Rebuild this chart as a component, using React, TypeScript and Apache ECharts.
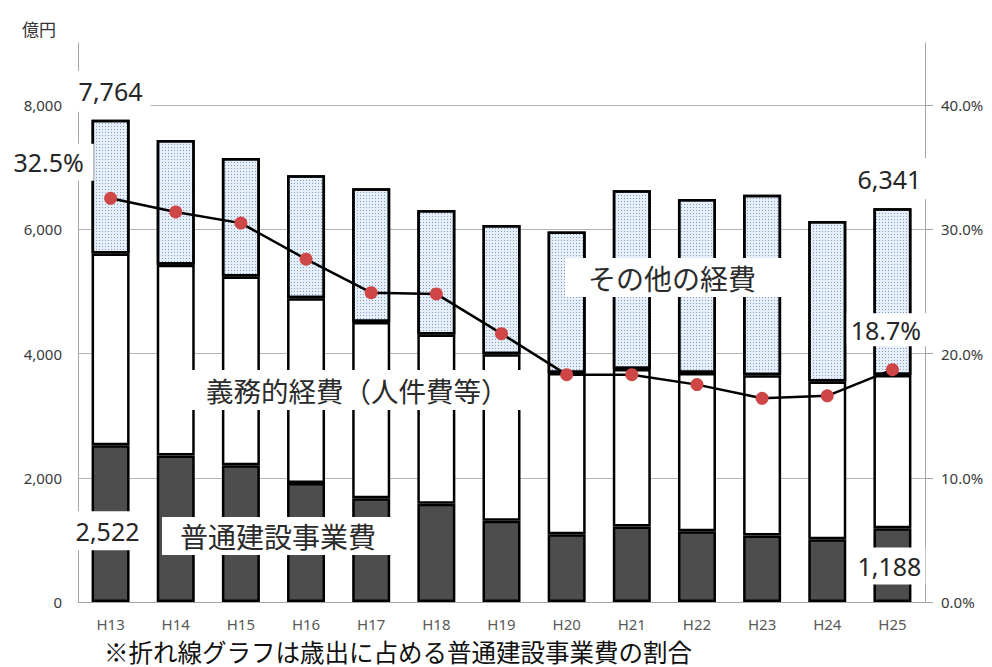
import React, { useEffect, useRef } from 'react';
import * as echarts from 'echarts';

// 年度
const years = ['H13', 'H14', 'H15', 'H16', 'H17', 'H18', 'H19', 'H20', 'H21', 'H22', 'H23', 'H24', 'H25'];
// 普通建設事業費（億円）
const kensetsu = [2522, 2360, 2200, 1915, 1670, 1580, 1310, 1090, 1215, 1140, 1070, 1010, 1188];
// 義務的経費（人件費等）（億円）
const gimu = [3088, 3070, 3040, 2975, 2840, 2725, 2680, 2595, 2535, 2545, 2580, 2540, 2467];
// その他の経費（億円）
const sonota = [2154, 2010, 1910, 1980, 2150, 2005, 2080, 2280, 2880, 2805, 2905, 2585, 2686];
// 歳出に占める普通建設事業費の割合（％）
const ratio = [32.5, 31.4, 30.5, 27.6, 24.9, 24.8, 21.6, 18.3, 18.3, 17.5, 16.4, 16.6, 18.7];

const totals = years.map((_, i) => kensetsu[i] + gimu[i] + sonota[i]);
const fmt = (v: number) => v.toLocaleString('en-US');

const NUM_FONT = "'Noto Sans', 'Open Sans', sans-serif";
const JP_FONT = "'Noto Sans CJK JP', 'Noto Sans', sans-serif";
const AXIS_GRAY = '#a6a6a6';

const numLabel = {
  show: true,
  fontFamily: NUM_FONT,
  fontSize: 25,
  color: '#262626',
  backgroundColor: '#ffffff',
};

export default function App() {
  const ref = useRef<HTMLDivElement>(null);

  useEffect(() => {
    if (!ref.current) return;
    const chart = echarts.init(ref.current, undefined, { renderer: 'svg' });

    const barBorder = { borderColor: '#000', borderWidth: 2.5 };

    const option: any = {
      animation: false,
      backgroundColor: '#ffffff',
      textStyle: { fontFamily: NUM_FONT },
      grid: { left: 78, right: 67, top: 43, bottom: 65 },
      xAxis: {
        type: 'category',
        data: years,
        boundaryGap: true,
        axisLine: { show: true, lineStyle: { color: AXIS_GRAY, width: 1 } },
        axisTick: { show: false },
        axisLabel: { color: '#595959', fontSize: 15, margin: 14, fontFamily: NUM_FONT },
      },
      yAxis: [
        {
          type: 'value',
          min: 0,
          max: 9000,
          interval: 2000,
          axisLine: { show: true, lineStyle: { color: AXIS_GRAY, width: 1 } },
          axisTick: { show: false },
          axisLabel: {
            showMaxLabel: false,
            color: '#3a3a3a',
            fontSize: 15,
            margin: 16,
            formatter: (v: number) => fmt(v),
          },
          splitLine: {
            show: true,
            showMinLine: false,
            showMaxLine: false,
            lineStyle: { color: '#b5b5b5', width: 1 },
          },
        },
        {
          type: 'value',
          position: 'right',
          min: 0,
          max: 45,
          interval: 10,
          axisLine: { show: true, lineStyle: { color: AXIS_GRAY, width: 1 } },
          axisTick: { show: true, inside: false, length: 8, lineStyle: { color: AXIS_GRAY } },
          axisLabel: {
            showMaxLabel: false,
            color: '#3a3a3a',
            fontSize: 15,
            margin: 16,
            formatter: (v: number) => v.toFixed(1) + '%',
          },
          splitLine: { show: false },
        },
      ],
      series: [
        {
          name: '普通建設事業費',
          type: 'bar',
          stack: 'saishutsu',
          barWidth: 38,
          itemStyle: { color: '#4d4d4d', ...barBorder },
          data: kensetsu.map((v, i) => {
            if (i === 0) {
              return {
                value: v,
                label: { ...numLabel, position: 'inside', offset: [-3, 7], padding: [7, 3, 7, 3], formatter: () => fmt(v) },
              };
            }
            if (i === years.length - 1) {
              return {
                value: v,
                label: { ...numLabel, position: 'inside', offset: [-3, 1], padding: [6, 4, 6, 4], formatter: () => fmt(v) },
              };
            }
            return v;
          }),
        },
        {
          name: '義務的経費（人件費等）',
          type: 'bar',
          stack: 'saishutsu',
          barWidth: 38,
          itemStyle: { color: '#ffffff', ...barBorder },
          data: gimu,
        },
        {
          name: 'その他の経費',
          type: 'bar',
          stack: 'saishutsu',
          barWidth: 38,
          itemStyle: {
            color: '#e6eef8',
            ...barBorder,
            decal: {
              symbol: 'rect',
              symbolSize: 1,
              dashArrayX: [1, 2],
              dashArrayY: [1, 2],
              rotation: 0,
              color: '#7f9cc8',
            },
          },
          data: sonota.map((v, i) => {
            if (i === 0) {
              return {
                value: v,
                label: {
                  ...numLabel,
                  position: 'top',
                  distance: 8,
                  offset: [3, 0],
                  padding: [8, 8, 8, 2],
                  formatter: () => fmt(totals[i]),
                },
              };
            }
            if (i === years.length - 1) {
              return {
                value: v,
                label: {
                  ...numLabel,
                  position: 'top',
                  distance: 9,
                  offset: [-3, 0],
                  padding: [8, 6, 8, 6],
                  formatter: () => fmt(totals[i]),
                },
              };
            }
            return v;
          }),
        },
        {
          name: '割合',
          type: 'line',
          yAxisIndex: 1,
          symbol: 'circle',
          symbolSize: 13,
          lineStyle: { color: '#000', width: 2.5 },
          itemStyle: { color: '#cf4646' },
          z: 5,
          data: ratio.map((v, i) => {
            if (i === 0) {
              return {
                value: v,
                label: {
                  ...numLabel,
                  position: 'inside',
                  offset: [-59, -36],
                  padding: [6, 10, 6, 4],
                  formatter: () => v.toFixed(1) + '%',
                },
              };
            }
            if (i === years.length - 1) {
              return {
                value: v,
                label: {
                  ...numLabel,
                  position: 'inside',
                  offset: [-6, -40],
                  padding: [4, 5, 4, 4],
                  formatter: () => v.toFixed(1) + '%',
                },
              };
            }
            return v;
          }),
        },
      ],
      graphic: [
        {
          type: 'text',
          left: 22,
          top: 20,
          z: 100,
          style: { text: '億円', fontSize: 17, fontFamily: JP_FONT, fill: '#333' },
        },
        {
          type: 'text',
          x: 565,
          y: 258,
          z: 100,
          style: {
            text: 'その他の経費',
            fontSize: 28,
            lineHeight: 28,
            fontFamily: JP_FONT,
            fill: '#2b2b2b',
            backgroundColor: '#ffffff',
            padding: [6, 34, 5, 23],
          },
        },
        {
          type: 'text',
          x: 190,
          y: 370,
          z: 100,
          style: {
            text: '義務的経費（人件費等）',
            fontSize: 27.5,
            lineHeight: 28,
            fontFamily: JP_FONT,
            fill: '#2b2b2b',
            backgroundColor: '#ffffff',
            padding: [6, 20, 6, 16],
          },
        },
        {
          type: 'text',
          x: 162,
          y: 517,
          z: 100,
          style: {
            text: '普通建設事業費',
            fontSize: 28,
            lineHeight: 28,
            fontFamily: JP_FONT,
            fill: '#2b2b2b',
            backgroundColor: '#ffffff',
            padding: [5, 19, 5, 18],
          },
        },
        {
          type: 'text',
          x: 104,
          y: 638,
          z: 100,
          style: {
            text: '※折れ線グラフは歳出に占める普通建設事業費の割合',
            fontSize: 24.5,
            lineHeight: 26,
            fontFamily: JP_FONT,
            fill: '#111',
          },
        },
      ],
    };

    chart.setOption(option);
    return () => chart.dispose();
  }, []);

  return (
    <div
      ref={ref}
      style={{ position: 'absolute', left: 0, top: 0, width: 992, height: 667, background: '#fff' }}
    />
  );
}
